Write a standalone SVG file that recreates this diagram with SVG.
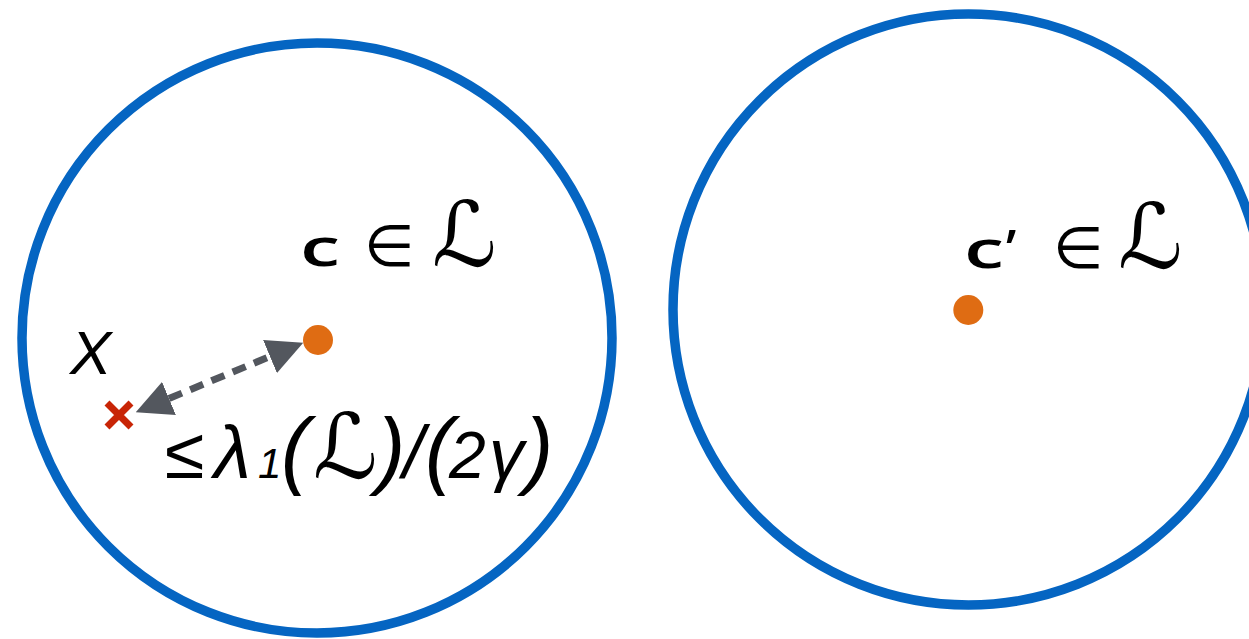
<svg xmlns="http://www.w3.org/2000/svg" width="1249" height="639" viewBox="0 0 1249 639">
<style>
.ball{fill:none;stroke:#0565c2;stroke-width:9.5}
.pt{fill:#df6c13}
.lbl{font-family:"Liberation Sans",Arial,sans-serif;fill:#000}
.c{font-family:"Open Sans","Liberation Sans",sans-serif;font-weight:600;font-size:53px}
.elem{font-family:"DejaVu Sans",sans-serif;font-size:58px}
.scr{font-family:"DejaVu Serif","DejaVu Sans",serif;font-style:italic;font-size:90px}
.dist{stroke:#53575e;stroke-width:7;stroke-dasharray:14 9;fill:none}
</style>
<defs>
<marker id="ah" markerUnits="userSpaceOnUse" markerWidth="36" markerHeight="36" viewBox="0 0 36 36" refX="0" refY="18" orient="auto-start-reverse">
<path d="M0,0 L36,18 L0,36 z" fill="#53575e"/>
</marker>
</defs>
<rect width="1249" height="639" fill="#fff"/>
<g id="ball-left">
<circle class="ball" cx="317" cy="338" r="295"/>
</g>
<g id="ball-right">
<circle class="ball" cx="968.5" cy="309.5" r="295.5"/>
</g>
<g id="center-c">
<circle class="pt" cx="318" cy="340" r="15"/>
<text class="lbl" y="266"><tspan class="c" x="300" textLength="40" lengthAdjust="spacingAndGlyphs">c</tspan><tspan class="elem" x="364">∈</tspan><tspan class="scr" x="432">ℒ</tspan></text>
</g>
<g id="center-c-prime">
<circle class="pt" cx="968.3" cy="310" r="15"/>
<text class="lbl" y="268"><tspan class="c" x="964" textLength="40" lengthAdjust="spacingAndGlyphs">c</tspan><tspan class="c" x="1006">’</tspan><tspan class="elem" x="1053">∈</tspan><tspan class="scr" x="1118">ℒ</tspan></text>
</g>
<g id="point-x">
<path d="M107,403 L131,427 M131,403 L107,427" stroke="#c82506" stroke-width="7" fill="none"/>
<text class="lbl" x="70" y="374" font-size="62" font-style="italic">X</text>
</g>
<g id="connectors">
<path class="dist" d="M169,398.5 L270,356.5" marker-start="url(#ah)" marker-end="url(#ah)"/>
</g>
<g id="bound-label">
<text class="lbl" y="478" font-style="italic"><tspan x="165" font-size="72" font-style="normal">≤</tspan><tspan x="214" font-size="75">λ</tspan><tspan x="258" font-size="42">1</tspan><tspan x="281" font-size="85">(</tspan><tspan class="scr" x="313" font-size="70">ℒ</tspan><tspan x="377" font-size="85">)</tspan><tspan x="403" font-size="75">/</tspan><tspan x="425" font-size="85">(</tspan><tspan x="449" font-size="66">2</tspan><tspan x="489" font-size="70">γ</tspan><tspan x="525" font-size="85">)</tspan></text>
</g>
</svg>
